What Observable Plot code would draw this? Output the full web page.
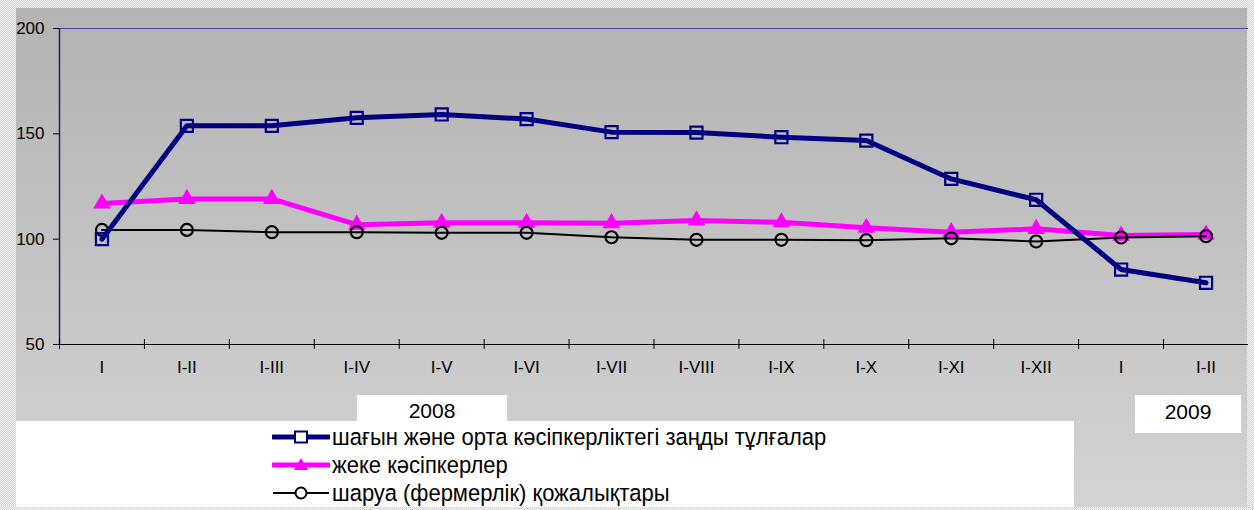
<!DOCTYPE html>
<html>
<head>
<meta charset="utf-8">
<script src="https://cdn.jsdelivr.net/npm/d3@7"></script>
<script src="https://cdn.jsdelivr.net/npm/@observablehq/plot@0.6"></script>
<style>
  html, body { margin: 0; padding: 0; background: #fff; }
  #wrap {
    position: relative; width: 1254px; height: 510px; overflow: hidden;
    background: repeating-conic-gradient(#d6d6d6 0 25%, #f2f2f2 0 50%) 0 0 / 2px 2px;
    font-family: "Liberation Sans", Arial, sans-serif;
  }
  #panel {
    position: absolute; left: 16px; top: 8px; width: 1231px; height: 499px;
    background: linear-gradient(#b3b3b3, #d3d3d3);
  }
  .box { position: absolute; background: #fff; }
  .year { position: absolute; background: #fff; font-size: 21px; color: #000; text-align: center; }
  #chart { position: absolute; left: 0; top: 0; }
  #legend { position: absolute; left: 272px; top: 423px; }
  .lg { display: flex; align-items: center; height: 28px; color: #000; }
  .lg svg { margin-right: 2px; flex: none; }
  .lg span { font-size: 22px; display: inline-block; transform: scaleY(1.08); white-space: nowrap; }
</style>
</head>
<body>
<div id="wrap">
  <div id="panel"></div>
  <div class="box" style="left:16px;top:421px;width:1058px;height:86px;"></div>
  <div class="year" id="y2008" style="left:357px;top:395px;width:150px;height:26px;line-height:32px;"></div>
  <div class="year" id="y2009" style="left:1135px;top:395px;width:106px;height:38px;line-height:33px;"></div>
  <div id="chart"></div>
  <div id="legend"></div>
</div>
<script>
// ---- data ----
const categories = ["I","I-II","I-III","I-IV","I-V","I-VI","I-VII","I-VIII","I-IX","I-X","I-XI","I-XII","I","I-II"];
const legalEntities = [100, 153.8, 153.8, 157.6, 159.2, 157, 150.8, 150.6, 148.4, 146.8, 128.6, 118.7, 85.6, 79.3];
const entrepreneurs = [116.9, 119.1, 119.1, 106.9, 107.8, 107.8, 107.6, 108.9, 108, 105.4, 103.3, 104.9, 101.7, 102.2];
const farms = [104.4, 104.4, 103.3, 103.3, 103, 103, 100.9, 99.7, 99.7, 99.5, 100.4, 98.9, 100.8, 101.4];
const yTicks = [50, 100, 150, 200];
const seriesNames = [
  "шағын және орта кәсіпкерліктегі заңды тұлғалар",
  "жеке кәсіпкерлер",
  "шаруа (фермерлік) қожалықтары"
];
const years = ["2008", "2009"];

// ---- build ----
const rows = categories.map((c, i) => ({i, c, legal: legalEntities[i], ent: entrepreneurs[i], farm: farms[i]}));
const edges = categories.map((c, i) => i - 0.5);

const navy = "#000080", magenta = "#ff00ff", black = "#000000";

const chart = Plot.plot({
  width: 1254,
  height: 510,
  marginLeft: 59,
  marginRight: 6,
  marginTop: 28,
  marginBottom: 166,
  x: {domain: [-0.5, categories.length - 0.5], axis: null},
  y: {domain: [yTicks[0], yTicks[yTicks.length - 1]], axis: null},
  style: {background: "transparent", fontFamily: "'Liberation Sans', Arial, sans-serif", fontSize: "17px", color: "#000"},
  marks: [
    Plot.ruleY([yTicks[yTicks.length - 1]], {stroke: "#45459c", strokeWidth: 1}),
    Plot.axisY({ticks: yTicks, tickSize: 6, tickPadding: 9, fontSize: 17, stroke: "#000", fill: "#000", strokeOpacity: 1}),
    Plot.ruleX([-0.5], {stroke: "#22224a", strokeWidth: 1.5}),
    Plot.ruleY([yTicks[0]], {stroke: "#000", strokeWidth: 1.2}),
    Plot.ruleX(edges, {x: d => d, y1: yTicks[0], y2: yTicks[0], insetTop: -5, insetBottom: -5, stroke: "#000"}),
    Plot.text(categories, {x: (d, i) => i, frameAnchor: "bottom", dy: 28, text: d => d, fontSize: 17, fill: "#000"}),
    // entrepreneurs
    Plot.line(rows, {x: "i", y: "ent", stroke: magenta, strokeWidth: 5}),
    Plot.dot(rows, {x: "i", y: "ent", symbol: "triangle", r: 6.5, fill: magenta, stroke: "none"}),
    // farms
    Plot.line(rows, {x: "i", y: "farm", stroke: black, strokeWidth: 2}),
    Plot.dot(rows, {x: "i", y: "farm", symbol: "circle", r: 6, fill: "none", stroke: black, strokeWidth: 2.2}),
    // legal entities
    Plot.line(rows, {x: "i", y: "legal", stroke: navy, strokeWidth: 5}),
    Plot.dot(rows, {x: "i", y: "legal", symbol: "square", r: 6.8, fill: "none", stroke: navy, strokeWidth: 2.2})
  ]
});
document.getElementById("chart").appendChild(chart);

document.getElementById("y2008").textContent = years[0];
document.getElementById("y2009").textContent = years[1];

// legend
const sw = [
  `<svg width="58" height="14"><line x1="1" y1="7" x2="57" y2="7" stroke="${navy}" stroke-width="5" stroke-linecap="round"/><rect x="23" y="1.5" width="12" height="11" fill="#fff" stroke="${navy}" stroke-width="2"/></svg>`,
  `<svg width="58" height="14"><line x1="1" y1="7" x2="57" y2="7" stroke="${magenta}" stroke-width="5" stroke-linecap="round"/><path d="M29,0 L36,12 L22,12 Z" fill="${magenta}"/></svg>`,
  `<svg width="58" height="14"><line x1="1" y1="7" x2="57" y2="7" stroke="${black}" stroke-width="2"/><circle cx="29" cy="7" r="5.5" fill="#fff" stroke="${black}" stroke-width="2"/></svg>`
];
document.getElementById("legend").innerHTML = seriesNames.map((n, k) =>
  `<div class="lg">${sw[k]}<span>${n}</span></div>`).join("");
</script>
</body>
</html>
